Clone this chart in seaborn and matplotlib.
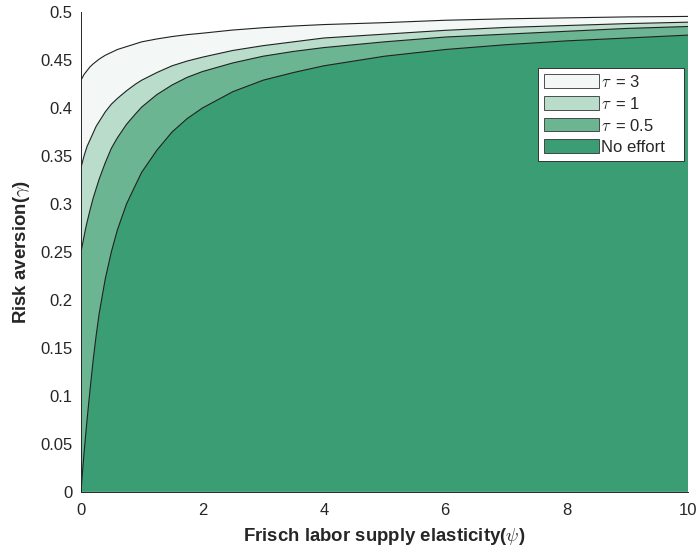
import numpy as np
import pandas as pd
import matplotlib
matplotlib.use("Agg")
import matplotlib.pyplot as plt
from matplotlib.patches import Patch
import seaborn as sns

# values
psi = [0, 0.025, 0.05, 0.075, 0.1, 0.15, 0.2, 0.25, 0.3, 0.4, 0.5, 0.6, 0.75,
       0.9, 1, 1.25, 1.5, 1.75, 2, 2.5, 3, 3.5, 4, 5, 6, 7, 8, 9, 10]
no_effort = [0, 0.021, 0.040, 0.058, 0.075, 0.107, 0.137, 0.163, 0.186,
             0.222, 0.250, 0.273, 0.300, 0.320, 0.333, 0.356, 0.375, 0.389,
             0.400, 0.417, 0.429, 0.437, 0.444, 0.454, 0.461, 0.466, 0.470,
             0.473, 0.476]
tau_05 = [0.250, 0.258, 0.266, 0.274, 0.281, 0.294, 0.306, 0.316, 0.326,
          0.343, 0.358, 0.369, 0.383, 0.394, 0.401, 0.414, 0.424, 0.432,
          0.438, 0.447, 0.454, 0.459, 0.463, 0.469, 0.474, 0.477, 0.480,
          0.483, 0.485]
tau_1 = [0.338, 0.344, 0.350, 0.355, 0.360, 0.367, 0.374, 0.381, 0.386,
         0.396, 0.404, 0.410, 0.418, 0.425, 0.429, 0.437, 0.444, 0.449,
         0.453, 0.460, 0.465, 0.469, 0.473, 0.477, 0.481, 0.484, 0.486,
         0.488, 0.4895]
tau_3 = [0.429, 0.432, 0.435, 0.437, 0.439, 0.443, 0.446, 0.4485, 0.451,
         0.455, 0.458, 0.461, 0.464, 0.467, 0.469, 0.472, 0.4745, 0.4765,
         0.478, 0.4813, 0.4837, 0.4855, 0.487, 0.489, 0.4915, 0.493, 0.494,
         0.495, 0.4955]

labels = [r"$\tau\,$ = 3", r"$\tau\,$ = 1", r"$\tau\,$ = 0.5", "No effort"]
colors = ["#f3f8f6", "#b9dccb", "#6cb592", "#3a9d74"]

df = pd.DataFrame({
    "psi": psi * 4,
    "gamma": tau_3 + tau_1 + tau_05 + no_effort,
    "case": [c for c in labels for _ in psi],
})

sns.set_theme(style="white")
plt.rcParams["font.family"] = ["Liberation Sans", "DejaVu Sans"]
plt.rcParams["mathtext.fontset"] = "cm"

fig = plt.figure(figsize=(6.97, 5.5), dpi=100)
ax = fig.add_axes([0.1162, 0.106, 0.8708, 0.872])

# areas drawn back to front, each from zero up to its curve
for lab, col in zip(labels, colors):
    sub = df[df["case"] == lab]
    ax.fill_between(sub["psi"], 0, sub["gamma"], facecolor=col,
                    edgecolor="none", zorder=1)

sns.lineplot(data=df, x="psi", y="gamma", hue="case", hue_order=labels,
             palette=["#222222"] * 4, linewidth=0.8, legend=False, ax=ax,
             zorder=2)

ax.set_xlim(0, 10)
ax.set_ylim(0, 0.5)
ax.set_xticks([0, 2, 4, 6, 8, 10])
ax.set_yticks(np.arange(0, 0.51, 0.05))
ax.set_yticklabels(["0", "0.05", "0.1", "0.15", "0.2", "0.25", "0.3",
                    "0.35", "0.4", "0.45", "0.5"])
ax.set_axisbelow(True)
ax.tick_params(axis="both", direction="in", length=4, width=0.6,
               labelsize=12, colors="#262626", pad=6)
ax.tick_params(axis="x", pad=8)
for s in ["top", "right"]:
    ax.spines[s].set_visible(False)
for s in ["left", "bottom"]:
    ax.spines[s].set_color("#262626")
    ax.spines[s].set_linewidth(0.7)

ax.set_xlabel(r"Frisch labor supply elasticity($\psi$)", fontsize=13.4,
              fontweight="bold", color="#262626", labelpad=6)
ax.set_ylabel(r"Risk aversion($\gamma$)", fontsize=13.4,
              fontweight="bold", color="#262626", labelpad=6)

handles = [Patch(facecolor=c, edgecolor="#333333", linewidth=0.6)
           for c in colors]
leg = ax.legend(handles, labels, loc="upper left", mode="expand",
                bbox_to_anchor=(0.753, 0.5, 0.2405, 0.3833), fontsize=12,
                frameon=True, fancybox=False, framealpha=1,
                handlelength=3.3, handleheight=0.85, handletextpad=0.15,
                labelspacing=0.35, borderpad=0.35, borderaxespad=0)
leg.get_frame().set_edgecolor("#333333")
leg.get_frame().set_linewidth(0.7)
leg.set_zorder(5)

fig.savefig("out.png", dpi=100)
